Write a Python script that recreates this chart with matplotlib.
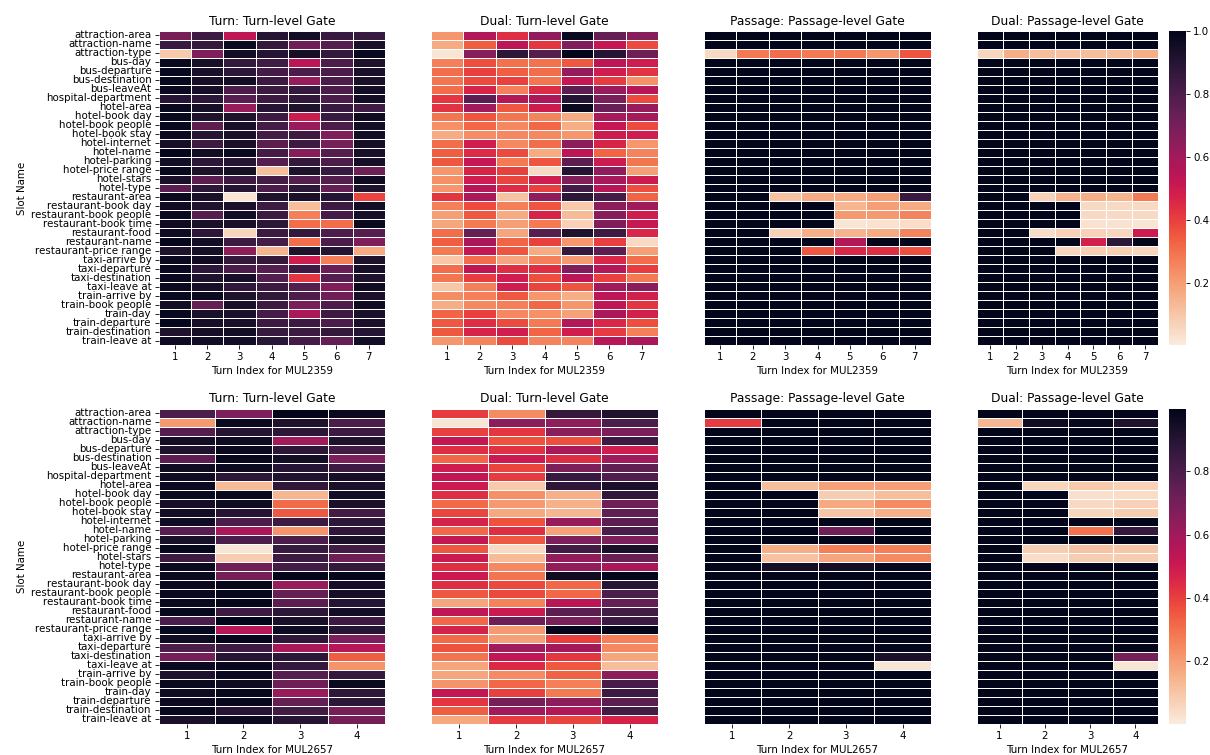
import matplotlib
matplotlib.use("Agg")
import matplotlib.pyplot as plt
import seaborn as sns

slots = ["attraction-area", "attraction-name", "attraction-type", "bus-day", "bus-departure",
         "bus-destination", "bus-leaveAt", "hospital-department", "hotel-area", "hotel-book day",
         "hotel-book people", "hotel-book stay", "hotel-internet", "hotel-name", "hotel-parking",
         "hotel-price range", "hotel-stars", "hotel-type", "restaurant-area", "restaurant-book day",
         "restaurant-book people", "restaurant-book time", "restaurant-food", "restaurant-name",
         "restaurant-price range", "taxi-arrive by", "taxi-departure", "taxi-destination",
         "taxi-leave at", "train-arrive by", "train-book people", "train-day", "train-departure",
         "train-destination", "train-leave at"]

turns_2359 = [1, 2, 3, 4, 5, 6, 7]
turns_2657 = [1, 2, 3, 4]

turn_2359 = [
    [.70, .84, .53, .90, .95, .85, .85], [.85, .86, .97, .86, .72, .78, .93],
    [.09, .68, .95, .90, .94, .86, .98], [.98, .94, .86, .83, .54, .80, .92],
    [.98, .93, .88, .82, .80, .80, .93], [.98, .94, .95, .84, .62, .80, .93],
    [.97, .94, .80, .84, .86, .80, .95], [.90, .88, .77, .84, .87, .80, .95],
    [.98, .94, .62, .90, .92, .85, .83], [.98, .92, .92, .84, .50, .85, .96],
    [.98, .76, .94, .82, .62, .80, .95], [.97, .90, .93, .82, .84, .68, .95],
    [.94, .84, .93, .76, .84, .70, .94], [.99, .95, .97, .82, .66, .78, .93],
    [.95, .88, .90, .78, .86, .80, .94], [.98, .92, .94, .12, .92, .85, .72],
    [.93, .76, .84, .82, .78, .78, .96], [.76, .88, .90, .80, .88, .74, .92],
    [.97, .93, .02, .92, .93, .90, .39], [.96, .92, .93, .84, .12, .84, .95],
    [.97, .78, .95, .84, .27, .82, .94], [.96, .93, .93, .88, .31, .31, .97],
    [.96, .88, .06, .84, .86, .80, .78], [.99, .95, .84, .82, .31, .80, .68],
    [.92, .94, .64, .15, .92, .90, .17], [.97, .96, .86, .86, .49, .27, .92],
    [.98, .88, .80, .78, .84, .73, .94], [.98, .92, .94, .78, .42, .78, .92],
    [.97, .94, .87, .84, .78, .68, .96], [.98, .97, .92, .87, .80, .72, .93],
    [.95, .74, .93, .84, .70, .80, .96], [.98, .93, .93, .82, .58, .84, .93],
    [.99, .94, .93, .84, .84, .80, .93], [.92, .94, .95, .85, .84, .86, .90],
    [.96, .95, .95, .89, .82, .74, .95]]

dual_turn_2359 = [
    [.22, .56, .44, .64, .97, .74, .66], [.17, .34, .54, .42, .68, .52, .38],
    [.02, .66, .88, .78, 1.0, .90, .72], [.27, .37, .30, .30, .35, .54, .49],
    [.31, .40, .34, .31, .63, .49, .43], [.29, .38, .40, .29, .52, .41, .23],
    [.31, .47, .27, .45, .76, .62, .55], [.42, .76, .56, .58, .90, .69, .38],
    [.43, .60, .35, .50, .97, .73, .62], [.29, .36, .29, .26, .17, .59, .59],
    [.23, .32, .25, .32, .16, .52, .38], [.17, .24, .25, .25, .22, .50, .49],
    [.31, .49, .25, .31, .65, .47, .22], [.34, .45, .38, .17, .54, .33, .26],
    [.35, .52, .28, .36, .76, .50, .29], [.22, .47, .40, .05, .90, .64, .20],
    [.23, .49, .39, .49, .67, .59, .50], [.22, .55, .45, .40, .82, .55, .37],
    [.42, .58, .11, .64, .88, .82, .33], [.27, .38, .27, .36, .09, .65, .60],
    [.20, .35, .17, .47, .13, .66, .49], [.18, .28, .20, .28, .07, .68, .51],
    [.31, .74, .18, .78, .92, .84, .46], [.34, .58, .33, .40, .22, .40, .05],
    [.28, .52, .36, .17, .86, .76, .20], [.10, .31, .18, .27, .21, .46, .31],
    [.31, .54, .44, .44, .68, .56, .41], [.29, .41, .49, .37, .54, .40, .28],
    [.10, .27, .49, .39, .36, .60, .65], [.24, .27, .35, .22, .16, .54, .48],
    [.16, .25, .27, .32, .22, .53, .42], [.33, .40, .25, .23, .19, .58, .48],
    [.35, .44, .38, .28, .56, .46, .37], [.35, .47, .49, .33, .49, .41, .27],
    [.22, .26, .38, .26, .26, .55, .58]]

passage_2359 = [
    [1, 1, 1, 1, 1, 1, 1], [1, 1, 1, 1, 1, 1, 1],
    [.05, .28, .31, .28, .28, .22, .36], [1, 1, 1, 1, 1, 1, 1],
    [1, 1, 1, 1, 1, 1, 1], [1, 1, 1, 1, 1, 1, 1],
    [1, 1, 1, 1, 1, 1, 1], [1, 1, 1, 1, 1, 1, 1],
    [1, 1, 1, 1, 1, 1, 1], [1, 1, 1, 1, 1, 1, 1],
    [1, 1, 1, 1, 1, 1, 1], [1, 1, 1, 1, 1, 1, 1],
    [1, 1, 1, 1, 1, 1, 1], [1, 1, 1, 1, 1, 1, 1],
    [1, 1, 1, 1, 1, 1, 1], [1, 1, 1, 1, 1, 1, 1],
    [1, 1, 1, 1, 1, 1, 1], [1, 1, 1, 1, 1, 1, 1],
    [1, 1, .11, .17, .17, .20, .85], [1, 1, 1, 1, .14, .20, .17],
    [1, 1, 1, 1, .21, .21, .26], [1, 1, 1, 1, .02, .03, .04],
    [1, 1, .07, .16, .15, .17, .26], [1, 1, 1, 1, .56, 1, 1],
    [1, 1, 1, .35, .46, .44, .37], [1, 1, 1, 1, 1, 1, 1],
    [1, 1, 1, 1, 1, 1, 1], [1, 1, 1, 1, 1, 1, 1],
    [1, 1, 1, 1, 1, 1, 1], [1, 1, 1, 1, 1, 1, 1],
    [1, 1, 1, 1, 1, 1, 1], [1, 1, 1, 1, 1, 1, 1],
    [1, 1, 1, 1, 1, 1, 1], [1, 1, 1, 1, 1, 1, 1],
    [1, 1, 1, 1, 1, 1, 1]]

dual_passage_2359 = [
    [1, 1, 1, 1, 1, 1, 1], [1, 1, 1, 1, 1, 1, 1],
    [.06, .16, .12, .11, .12, .12, .16], [1, 1, 1, 1, 1, 1, 1],
    [1, 1, 1, 1, 1, 1, 1], [1, 1, 1, 1, 1, 1, 1],
    [1, 1, 1, 1, 1, 1, 1], [1, 1, 1, 1, 1, 1, 1],
    [1, 1, 1, 1, 1, 1, 1], [1, 1, 1, 1, 1, 1, 1],
    [1, 1, 1, 1, 1, 1, 1], [1, 1, 1, 1, 1, 1, 1],
    [1, 1, 1, 1, 1, 1, 1], [1, 1, 1, 1, 1, 1, 1],
    [1, 1, 1, 1, 1, 1, 1], [1, 1, 1, 1, 1, 1, 1],
    [1, 1, 1, 1, 1, 1, 1], [1, 1, 1, 1, 1, 1, 1],
    [1, 1, .07, .15, .16, .15, .28], [1, 1, 1, 1, .05, .05, .05],
    [1, 1, 1, 1, .05, .05, .05], [1, 1, 1, 1, .03, .03, .02],
    [1, 1, .04, .07, .07, .06, .50], [1, 1, 1, 1, .48, .88, 1],
    [1, 1, 1, .06, .08, .08, .06], [1, 1, 1, 1, 1, 1, 1],
    [1, 1, 1, 1, 1, 1, 1], [1, 1, 1, 1, 1, 1, 1],
    [1, 1, 1, 1, 1, 1, 1], [1, 1, 1, 1, 1, 1, 1],
    [1, 1, 1, 1, 1, 1, 1], [1, 1, 1, 1, 1, 1, 1],
    [1, 1, 1, 1, 1, 1, 1], [1, 1, 1, 1, 1, 1, 1],
    [1, 1, 1, 1, 1, 1, 1]]

turn_2657 = [
    [.80, .68, .99, .97], [.21, .97, .92, .80], [.78, .90, .88, .84], [.95, .96, .60, .92],
    [.92, .97, .88, .82], [.76, .98, .95, .68], [.96, .97, .90, .84], [.96, .88, .91, .94],
    [.97, .13, .87, .93], [.97, .97, .14, .95], [.94, .96, .31, .93], [.95, .90, .35, .82],
    [.96, .80, .84, .88], [.77, .58, .22, .87], [.93, .80, .80, .93], [.98, .02, .85, .82],
    [.84, .08, .84, .72], [.97, .72, .82, .86], [.97, .70, 1.0, .99], [.97, .98, .62, .94],
    [.97, .98, .74, .94], [.97, .99, .76, .90], [.98, .84, .88, .95], [.80, 1.0, .93, .84],
    [.98, .55, .96, .90], [.96, .99, .87, .68], [.80, .84, .58, .55], [.70, .90, .88, .34],
    [.97, .98, .86, .22], [.92, .97, .78, .86], [.97, .96, .72, .97], [.96, .98, .62, .87],
    [.97, .98, .74, .88], [.98, .90, .82, .70], [.93, .97, .90, .70]]

dual_turn_2657 = [
    [.41, .24, .86, .92], [.02, .65, .64, .80], [.40, .42, .65, .69], [.52, .36, .37, .84],
    [.44, .43, .58, .49], [.32, .50, .44, .60], [.49, .39, .68, .75], [.52, .41, .85, .79],
    [.50, .09, .88, .93], [.44, .23, .15, .87], [.31, .21, .15, .72], [.39, .17, .14, .75],
    [.47, .36, .62, .76], [.32, .44, .19, .80], [.52, .35, .68, .68], [.35, .05, .82, .93],
    [.50, .13, .63, .73], [.44, .25, .63, .58], [.50, .29, .96, 1.0], [.44, .38, .32, .90],
    [.35, .38, .32, .80], [.18, .26, .54, .74], [.53, .50, .76, .82], [.32, .72, .69, .84],
    [.47, .21, .99, 1.0], [.31, .20, .40, .27], [.36, .60, .59, .25], [.29, .52, .42, .18],
    [.18, .45, .35, .12], [.18, .24, .33, .65], [.22, .32, .27, .81], [.52, .40, .28, .84],
    [.42, .70, .65, .76], [.34, .60, .56, .82], [.17, .41, .39, .47]]

passage_2657 = [
    [1, 1, 1, 1], [.41, 1, 1, 1], [1, 1, 1, 1], [1, 1, 1, 1],
    [1, 1, 1, 1], [1, 1, 1, 1], [1, 1, 1, 1], [1, 1, 1, 1],
    [1, .12, .19, .20], [1, 1, .08, .12], [1, 1, .17, .24], [1, 1, .10, .15],
    [1, 1, 1, 1], [1, 1, .72, 1], [1, 1, 1, 1], [1, .16, .27, .27],
    [1, .11, .18, .24], [1, .95, .95, .98], [1, 1, 1, 1], [1, 1, 1, 1],
    [1, 1, 1, 1], [1, 1, 1, 1], [1, 1, 1, 1], [1, 1, 1, 1],
    [1, 1, 1, 1], [1, 1, 1, 1], [1, 1, 1, 1], [1, 1, 1, .93],
    [1, 1, 1, .02], [1, 1, 1, 1], [1, 1, 1, 1], [1, 1, 1, 1],
    [1, 1, 1, 1], [1, 1, 1, 1], [1, 1, 1, 1]]

dual_passage_2657 = [
    [1, 1, 1, 1], [.14, .96, .98, .92], [1, 1, 1, 1], [1, 1, 1, 1],
    [1, 1, 1, 1], [1, 1, 1, 1], [1, 1, 1, 1], [1, 1, 1, 1],
    [1, .06, .09, .07], [1, 1, .03, .04], [1, 1, .05, .07], [1, 1, .06, .08],
    [1, 1, 1, 1], [1, 1, .30, .86], [1, 1, 1, 1], [1, .08, .11, .10],
    [1, .04, .08, .08], [1, 1, 1, 1], [1, 1, 1, 1], [1, 1, 1, 1],
    [1, 1, 1, 1], [1, 1, 1, 1], [1, 1, 1, 1], [1, 1, 1, 1],
    [1, 1, 1, 1], [1, 1, 1, 1], [1, 1, 1, 1], [1, 1, 1, .70],
    [1, 1, 1, .02], [1, 1, 1, 1], [1, 1, 1, 1], [1, 1, 1, 1],
    [1, 1, 1, 1], [1, 1, 1, 1], [1, 1, 1, 1]]

titles = ["Turn: Turn-level Gate", "Dual: Turn-level Gate",
          "Passage: Passage-level Gate", "Dual: Passage-level Gate"]

W, H = 1210, 755
fig = plt.figure(figsize=(W / 100, H / 100), dpi=100)


def px_axes(x0, x1, y0, y1):
    # pixel box from the top left corner
    return fig.add_axes([x0 / W, 1 - y1 / H, (x1 - x0) / W, (y1 - y0) / H])


columns = [(158.5, 385), (431, 658), (704, 931), (977, 1158)]


def draw_row(panels, turns, dialogue, y0, y1, vmin, vmax):
    cax = px_axes(1169, 1186, y0, y1)
    for i, data in enumerate(panels):
        ax = px_axes(columns[i][0], columns[i][1], y0, y1)
        last = i == 3
        sns.heatmap(data, ax=ax, cmap="rocket_r", vmin=vmin, vmax=vmax, linewidths=0.6,
                    xticklabels=turns, yticklabels=slots if i == 0 else False,
                    cbar=last, cbar_ax=cax if last else None)
        ax.set_title(titles[i], fontsize=8.85, pad=4.4)
        ax.set_xlabel("Turn Index for " + dialogue, fontsize=7.35, labelpad=2.9)
        ax.tick_params(axis="x", labelsize=7.35, rotation=0, length=2.6, width=0.6, pad=2.5)
        if i == 0:
            ax.set_ylabel("Slot Name", fontsize=7.35, labelpad=2.9)
            ax.tick_params(axis="y", labelsize=7.35, rotation=0, length=2.6, width=0.6, pad=2.5)
    cax.tick_params(labelsize=7.35, length=2.6, width=0.6, pad=2.5)
    cax.set_yticks([t for t in [0.2, 0.4, 0.6, 0.8, 1.0] if t <= vmax])


draw_row([turn_2359, dual_turn_2359, passage_2359, dual_passage_2359],
         turns_2359, "MUL2359", 31, 345, 0.003, 1.0)
draw_row([turn_2657, dual_turn_2657, passage_2657, dual_passage_2657],
         turns_2657, "MUL2657", 408.5, 724, 0.002, 0.998)

fig.savefig("out.png", dpi=100)
